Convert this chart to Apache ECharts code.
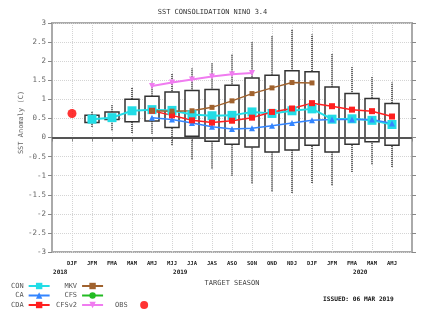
<!DOCTYPE html>
<html>
<head>
<meta charset="utf-8">
<script src="https://cdn.jsdelivr.net/npm/echarts@6/dist/echarts.min.js"></script>
<style>html,body{margin:0;padding:0;background:#fff}#c{width:425px;height:311px}</style>
</head>
<body>
<div id="c"></div>
<script>
// Target seasons (Dec-Jan-Feb 2018 ... Apr-May-Jun 2020)
const SEASONS = ['DJF','JFM','FMA','MAM','AMJ','MJJ','JJA','JAS','ASO','SON','OND','NDJ','DJF','JFM','FMA','MAM','AMJ'];
const YEARS   = ['2018','','','','','','2019','','','','','','','','','2020',''];
const Y_TICKS = [-3,-2.5,-2,-1.5,-1,-0.5,0,0.5,1,1.5,2,2.5,3];

// Ensemble spread (box = inner range, whiskers = full range)
const WHISK_LO = [null,0.28,0.19,0.12,0.10,-0.20,-0.57,-0.81,-1.00,-1.20,-1.41,-1.45,-1.19,-1.25,-0.90,-0.70,-0.77];
const BOX_LO   = [null,0.39,0.47,0.41,0.43,0.26,0.03,-0.10,-0.18,-0.25,-0.38,-0.33,-0.20,-0.38,-0.18,-0.11,-0.20];
const BOX_HI   = [null,0.58,0.67,1.00,1.08,1.19,1.23,1.26,1.37,1.56,1.63,1.75,1.72,1.32,1.15,1.02,0.89];
const WHISK_HI = [null,0.70,0.85,1.32,1.47,1.68,1.81,1.95,2.17,2.50,2.66,2.83,2.70,2.20,1.85,1.60,1.44];

// Forecast series
const CON   = [null,0.48,0.52,0.70,0.73,0.71,0.60,0.57,0.58,0.67,0.63,0.70,0.75,0.48,0.49,0.45,0.34];
const CA    = [null,null,null,null,0.52,0.47,0.38,0.28,0.22,0.24,0.31,0.38,0.45,0.47,0.47,0.47,0.37];
const CDA   = [null,null,null,null,0.70,0.58,0.45,0.39,0.44,0.52,0.67,0.76,0.90,0.82,0.73,0.69,0.55];
const MKV   = [null,null,null,null,0.70,0.69,0.70,0.79,0.96,1.15,1.30,1.44,1.43,null,null,null,null];
const CFS   = [null,null,null,null,null,null,null,null,null,null,null,null,null,null,null,null,null];
const CFSV2 = [null,null,null,null,1.35,1.44,1.52,1.60,1.66,1.69,null,null,null,null,null,null,null];
const OBS   = [0.63,null,null,null,null,null,null,null,null,null,null,null,null,null,null,null,null];

const CATS = [''].concat(SEASONS.map((s, i) => s + '|' + YEARS[i])).concat(['']);

function toPairs(arr) {
  const out = [];
  arr.forEach((v, i) => { if (v !== null) out.push([i + 1, v]); });
  return out;
}
const boxData = [];
SEASONS.forEach((s, i) => {
  if (BOX_LO[i] !== null) boxData.push([i + 1, WHISK_LO[i], BOX_LO[i], BOX_HI[i], WHISK_HI[i]]);
});

const MONO = 'DejaVu Sans Mono';
const chart = echarts.init(document.getElementById('c'), null, {renderer: 'canvas'});

function lineSeries(name, arr, color, symbol, size, width, extra) {
  return Object.assign({
    name: name, type: 'line', data: toPairs(arr), color: color,
    symbol: symbol, symbolSize: size, showAllSymbol: true,
    lineStyle: {color: color, width: width}, itemStyle: {color: color},
    connectNulls: false, z: 5, silent: true
  }, extra || {});
}

const legendBase = {
  orient: 'vertical', align: 'right', itemWidth: 21, itemHeight: 8, itemGap: 1.5,
  padding: 0, selectedMode: false,
  textStyle: {fontFamily: MONO, fontSize: 7, color: '#555', lineHeight: 8}
};

chart.setOption({
  animation: false,
  title: [
    {text: 'SST CONSOLIDATION NINO 3.4', left: 'center', top: 4,
     textStyle: {fontFamily: MONO, fontSize: 7, fontWeight: 'normal', color: '#333'}},
    {text: 'ISSUED: 06 MAR 2019', left: 318, top: 291,
     textStyle: {fontFamily: MONO, fontSize: 6.2, fontWeight: 'bold', color: '#111'}}
  ],
  legend: [
    Object.assign({}, legendBase, {data: ['CON','CA','CDA'], left: 11, top: 282}),
    Object.assign({}, legendBase, {data: ['MKV','CFS','CFSv2'], left: 56, top: 282}),
    Object.assign({}, legendBase, {data: ['OBS'], left: 115, top: 301, itemWidth: 9,
      textStyle: Object.assign({}, legendBase.textStyle, {padding: [0, 7, 0, 0]})})
  ],
  grid: {left: 52, right: 13, top: 23, bottom: 59, show: true, borderColor: '#aaa', borderWidth: 2},
  xAxis: {
    type: 'category', data: CATS, boundaryGap: false,
    name: 'TARGET SEASON', nameLocation: 'middle', nameGap: 22,
    nameTextStyle: {fontFamily: MONO, fontSize: 7, color: '#444'},
    axisLine: {show: true, lineStyle: {color: '#aaa', width: 2}},
    axisTick: {show: true, length: 4, lineStyle: {color: '#888'}, interval: 0},
    splitLine: {show: true, interval: 0, lineStyle: {color: '#d4d4d4', type: 'dotted', width: 1}},
    axisLabel: {
      interval: 0, margin: 8,
      formatter: function (v) {
        if (!v) return '';
        const p = v.split('|');
        return '{s|' + p[0] + '}' + (p[1] ? '\n{y|' + p[1] + '}' : '\n{y| }');
      },
      rich: {
        s: {fontFamily: MONO, fontSize: 5.5, fontWeight: 'bold', color: '#222', lineHeight: 8},
        y: {fontFamily: MONO, fontSize: 6, fontWeight: 'bold', color: '#222', lineHeight: 8, align: 'left', padding: [0, 0, 0, -14]}
      }
    }
  },
  yAxis: [
    {
      type: 'value', min: -3, max: 3, interval: 0.5,
      name: 'SST Anomaly (C)', nameLocation: 'middle', nameGap: 27, nameRotate: 90,
      nameMoveOverlap: false,
      nameTextStyle: {fontFamily: MONO, fontSize: 7, color: '#666', padding: [0, 0, 0, 30]},
      axisLine: {show: true, lineStyle: {color: '#aaa', width: 2}},
      axisTick: {show: true, length: 4, lineStyle: {color: '#888'}},
      axisLabel: {fontFamily: MONO, fontSize: 7.5, color: '#666', margin: 6,
        formatter: function (v) { return Y_TICKS.indexOf(v) >= 0 ? String(v) : ''; }},
      splitLine: {show: true, lineStyle: {color: '#d4d4d4', type: 'dotted', width: 1}}
    },
    {
      type: 'value', min: -3, max: 3, interval: 0.5, position: 'right',
      axisLine: {show: true, lineStyle: {color: '#aaa', width: 2}},
      axisTick: {show: true, length: 4, lineStyle: {color: '#888'}},
      axisLabel: {show: false}, splitLine: {show: false}
    }
  ],
  series: [
    {
      name: 'spread', type: 'custom', data: boxData, z: 2, silent: true,
      encode: {x: 0, y: [1, 2, 3, 4]},
      renderItem: function (params, api) {
        const x = api.value(0);
        const pLo = api.coord([x, api.value(1)]);
        const bLo = api.coord([x, api.value(2)]);
        const bHi = api.coord([x, api.value(3)]);
        const pHi = api.coord([x, api.value(4)]);
        const w = 14;
        return {
          type: 'group',
          children: [
            {type: 'line', shape: {x1: pLo[0], y1: pLo[1], x2: pHi[0], y2: pHi[1]},
             style: {stroke: '#555', lineWidth: 2, lineDash: [1, 1]}},
            {type: 'rect', shape: {x: bHi[0] - w / 2, y: bHi[1], width: w, height: bLo[1] - bHi[1]},
             style: {fill: '#fff', stroke: '#333', lineWidth: 1.5}}
          ]
        };
      }
    },
    lineSeries('CON', CON, '#22dde6', 'rect', 9, 2, {
      markLine: {silent: true, symbol: 'none', label: {show: false},
        lineStyle: {color: '#555', width: 2, type: 'solid'}, data: [{yAxis: 0}], z: 3}
    }),
    lineSeries('CA', CA, '#3385ff', 'triangle', 6, 1.5),
    lineSeries('CDA', CDA, '#ff1f1f', 'rect', 6, 1.5),
    lineSeries('MKV', MKV, '#a0622e', 'rect', 5, 1.5),
    lineSeries('CFS', CFS, '#22bb22', 'circle', 5, 1.5),
    lineSeries('CFSv2', CFSV2, '#f07cf0', 'triangle', 6, 2, {symbolRotate: 180}),
    {name: 'OBS', type: 'scatter', data: toPairs(OBS), symbol: 'circle',
     symbolSize: 9, itemStyle: {color: '#ff0000'}, z: 6, silent: true}
  ]
});
</script>
</body>
</html>
